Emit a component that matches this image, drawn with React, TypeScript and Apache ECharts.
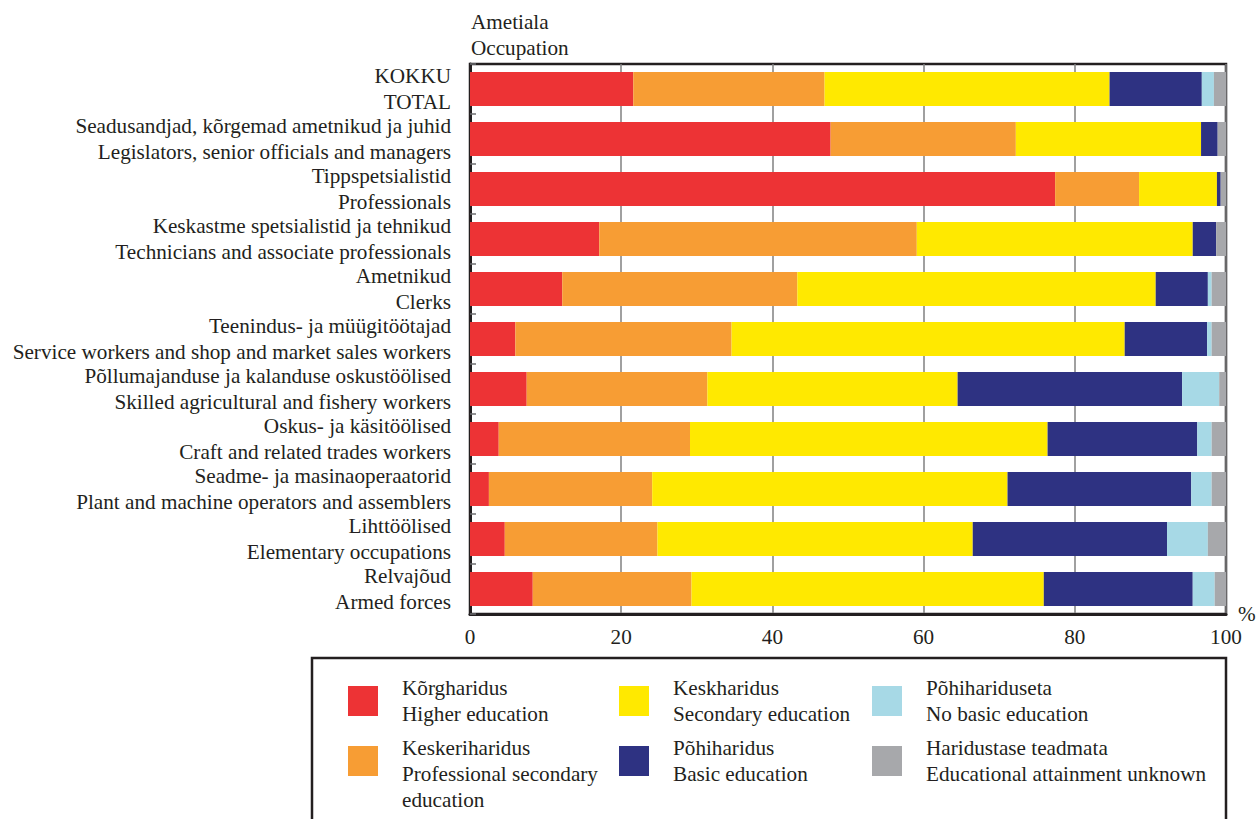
import React, { useEffect, useRef } from "react";
import * as echarts from "echarts";

const categories = [
  "KOKKU\nTOTAL",
  "Seadusandjad, kõrgemad ametnikud ja juhid\nLegislators, senior officials and managers",
  "Tippspetsialistid\nProfessionals",
  "Keskastme spetsialistid ja tehnikud\nTechnicians and associate professionals",
  "Ametnikud\nClerks",
  "Teenindus- ja müügitöötajad\nService workers and shop and market sales workers",
  "Põllumajanduse ja kalanduse oskustöölised\nSkilled agricultural and fishery workers",
  "Oskus- ja käsitöölised\nCraft and related trades workers",
  "Seadme- ja masinaoperaatorid\nPlant and machine operators and assemblers",
  "Lihttöölised\nElementary occupations",
  "Relvajõud\nArmed forces",
];

const seriesNames = [
  "Kõrgharidus\nHigher education",
  "Keskeriharidus\nProfessional secondary\neducation",
  "Keskharidus\nSecondary education",
  "Põhiharidus\nBasic education",
  "Põhihariduseta\nNo basic education",
  "Haridustase teadmata\nEducational attainment unknown",
];

const higher = [21.6, 47.7, 77.4, 17.1, 12.2, 6.0, 7.5, 3.8, 2.5, 4.6, 8.3];
const profSecondary = [25.3, 24.5, 11.1, 42.0, 31.1, 28.6, 23.9, 25.3, 21.6, 20.2, 21.0];
const secondary = [37.7, 24.5, 10.3, 36.5, 47.4, 52.0, 33.1, 47.3, 47.0, 41.7, 46.6];
const basic = [12.2, 2.2, 0.5, 3.1, 6.9, 10.9, 29.7, 19.8, 24.3, 25.7, 19.7];
const noBasic = [1.6, 0, 0, 0, 0.5, 0.6, 4.9, 1.9, 2.7, 5.4, 2.9];
const unknown = [1.6, 1.1, 0.7, 1.3, 1.9, 1.9, 0.9, 1.9, 1.9, 2.4, 1.5];

const xTicks = [0, 20, 40, 60, 80, 100];

const colors = ["#ED3335", "#F79D34", "#FFE900", "#2E3282", "#A7D9E6", "#A7A8AB"];

const FONT = "Liberation Serif";
const FS = 21.2;
const TXT = "#231F20";

export default function App() {
  const ref = useRef<HTMLDivElement>(null);

  useEffect(() => {
    if (!ref.current) return;
    const chart = echarts.init(ref.current, null, { renderer: "svg" });
    const values = [higher, profSecondary, secondary, basic, noBasic, unknown];

    const legendPos = [
      { left: 348, top: 675, lead: false },
      { left: 348, top: 709, lead: true },
      { left: 619, top: 675, lead: false },
      { left: 619, top: 735, lead: false },
      { left: 872, top: 675, lead: false },
      { left: 872, top: 735, lead: false },
    ];

    const option: any = {
      animation: false,
      backgroundColor: "#ffffff",
      title: {
        text: "Ametiala\nOccupation",
        left: 471,
        top: 9,
        padding: 0,
        textStyle: {
          fontFamily: FONT,
          fontSize: FS,
          lineHeight: 26,
          fontWeight: "normal",
          color: TXT,
        },
      },
      grid: {
        left: 470,
        top: 64,
        width: 756,
        height: 550,
        show: true,
        borderColor: TXT,
        borderWidth: 2.5,
        backgroundColor: "transparent",
        containLabel: false,
        outerBoundsMode: "none",
      },
      legend: seriesNames.map((n, i) => ({
        data: [n],
        left: legendPos[i].left,
        top: legendPos[i].top,
        padding: 0,
        icon: "rect",
        itemWidth: 30,
        itemHeight: 30,
        selectedMode: false,
        formatter: legendPos[i].lead ? (name: string) => " \n" + name : undefined,
        textStyle: {
          fontFamily: FONT,
          fontSize: FS,
          lineHeight: 26,
          color: TXT,
          padding: [0, 0, 0, 19],
        },
      })),
      xAxis: {
        type: "value",
        min: xTicks[0],
        max: xTicks[xTicks.length - 1],
        interval: 20,
        name: "%",
        nameLocation: "end",
        nameGap: 12,
        nameTextStyle: {
          fontFamily: FONT,
          fontSize: FS,
          color: TXT,
          padding: [0, 0, 20, 0],
        },
        axisLine: { show: true, lineStyle: { color: TXT, width: 3 } },
        axisTick: { show: false },
        axisLabel: {
          fontFamily: FONT,
          fontSize: FS,
          color: TXT,
          margin: 12,
          showMinLabel: true,
          showMaxLabel: true,
        },
        splitLine: { show: true, lineStyle: { color: "#808080", width: 1.5 } },
      },
      yAxis: {
        type: "category",
        inverse: true,
        data: categories,
        axisLine: { show: true, lineStyle: { color: TXT, width: 3 } },
        axisTick: {
          show: true,
          inside: true,
          length: 6,
          lineStyle: { color: "#6D6E71", width: 1.5 },
        },
        axisLabel: {
          fontFamily: FONT,
          fontSize: FS,
          lineHeight: 26,
          color: TXT,
          margin: 19,
          align: "right",
          interval: 0,
          showMinLabel: true,
          showMaxLabel: true,
          hideOverlap: false,
        },
        splitLine: { show: false },
      },
      graphic: [
        {
          type: "rect",
          shape: { x: 312, y: 658, width: 914, height: 220 },
          style: { fill: "transparent", stroke: TXT, lineWidth: 2.5 },
          silent: true,
        },
      ],
      series: seriesNames.map((n, i) => ({
        name: n,
        type: "bar",
        stack: "total",
        data: values[i],
        barWidth: 34,
        itemStyle: { color: colors[i] },
      })),
    };

    chart.setOption(option);
    return () => chart.dispose();
  }, []);

  return (
    <div
      ref={ref}
      style={{ position: "fixed", left: 0, top: 0, width: 1258, height: 819, background: "#fff" }}
    />
  );
}
